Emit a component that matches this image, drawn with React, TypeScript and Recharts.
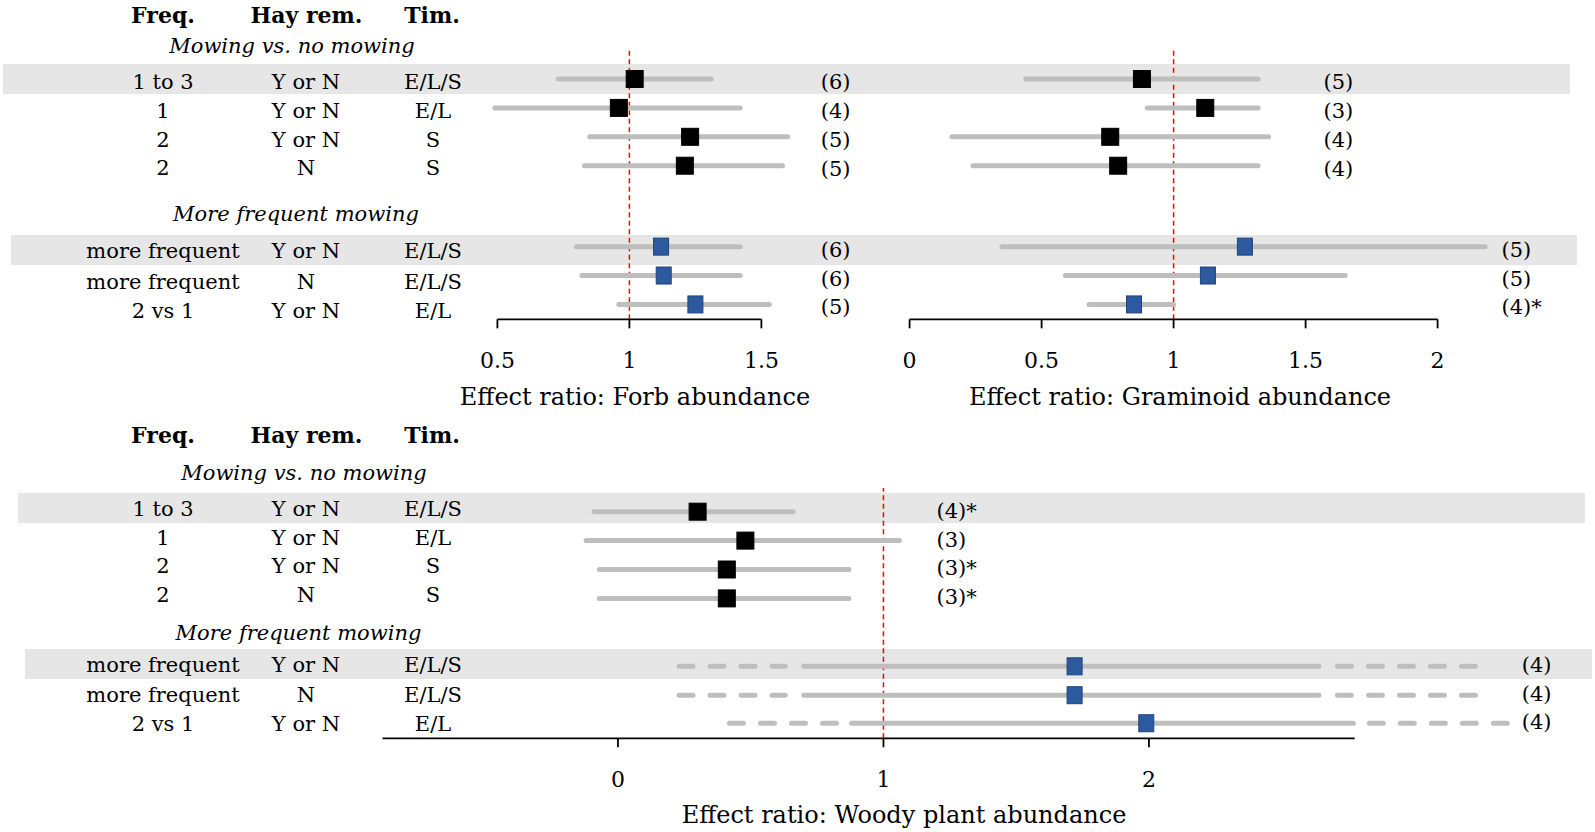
import { ComposedChart, Scatter, XAxis, YAxis, ReferenceLine } from 'recharts';

const FONT = '"DejaVu Serif", Georgia, serif';

// row descriptors (same for the three panels)
const FREQ = ['1 to 3', '1', '2', '2', 'more frequent', 'more frequent', '2 vs 1'];
const HAY_REM = ['Y or N', 'Y or N', 'Y or N', 'N', 'Y or N', 'N', 'Y or N'];
const TIMING = ['E/L/S', 'E/L', 'S', 'S', 'E/L/S', 'E/L/S', 'E/L'];
const CONTRAST = ['mow', 'mow', 'mow', 'mow', 'freq', 'freq', 'freq'];

// forb abundance
const FORB_EST = [1.02, 0.96, 1.23, 1.21, 1.12, 1.13, 1.25];
const FORB_LO = [0.73, 0.49, 0.85, 0.83, 0.8, 0.82, 0.96];
const FORB_HI = [1.31, 1.42, 1.6, 1.58, 1.42, 1.42, 1.53];
const FORB_N = [6, 4, 5, 5, 6, 6, 5];
const FORB_SIG = [false, false, false, false, false, false, false];

// graminoid abundance
const GRAM_EST = [0.88, 1.12, 0.76, 0.79, 1.27, 1.13, 0.85];
const GRAM_LO = [0.44, 0.9, 0.16, 0.24, 0.35, 0.59, 0.68];
const GRAM_HI = [1.32, 1.32, 1.36, 1.32, 2.18, 1.65, 1.0];
const GRAM_N = [5, 3, 4, 4, 5, 5, 4];
const GRAM_SIG = [false, false, false, false, false, false, true];

// woody plant abundance
const WOODY_EST = [0.3, 0.48, 0.41, 0.41, 1.72, 1.72, 1.99];
const WOODY_LO = [-0.09, -0.12, -0.07, -0.07, 0.7, 0.7, 0.88];
const WOODY_HI = [0.66, 1.06, 0.87, 0.87, 2.64, 2.64, 2.77];
const WOODY_DASH_LO: ([number, number] | null)[] = [null, null, null, null, [0.23, 0.63], [0.23, 0.63], [0.42, 0.83]];
const WOODY_DASH_HI: ([number, number] | null)[] = [null, null, null, null, [2.71, 3.23], [2.71, 3.23], [2.83, 3.35]];
const WOODY_N = [4, 3, 3, 3, 4, 4, 4];
const WOODY_SIG = [true, false, true, true, false, false, false];

const POINT_FILL: Record<string, string> = { mow: '#000000', freq: '#2d5a9e' };
const CI_GRAY = '#bebebe';
const BAND = '#e6e6e6';
const AXIS_H = 70;
const UNIT = 28.9;

// layout of the rows (in row units) for the upper and lower block
const TOP_ROWS = [0, 1, 2, 3, 5.8, 6.8, 7.8];
const TOP_Y: [number, number] = [-1.073, 8.315];
const TOP_TEXT_Y = [81.5, 111, 139.7, 167.5, 251, 282, 310.5];
const BOT_ROWS = [0, 1, 2, 3, 5.35, 6.35, 7.32];
const BOT_Y: [number, number] = [-0.82, 7.841];
const BOT_TEXT_Y = [509, 537.5, 566, 594.7, 665, 695, 723.5];

const noShape = () => <g />;

const square = (w: number, h: number, fill: string) => (props: any) => (
  <rect
    x={props.cx - w / 2}
    y={props.cy - h / 2}
    width={w}
    height={h}
    fill={fill}
    stroke={fill === '#000000' ? '#000000' : '#1e437d'}
    strokeWidth={1}
  />
);

const countLabel = (dy: number) => (props: any) => (
  <text
    x={props.cx}
    y={props.cy + dy}
    textAnchor="start"
    dominantBaseline="central"
    fontFamily={FONT}
    fontSize={21}
    fill="#000"
  >
    {props.payload.label}
  </text>
);

interface PanelProps {
  est: number[];
  lo: number[];
  hi: number[];
  n: number[];
  sig: boolean[];
  dashLo?: ([number, number] | null)[];
  dashHi?: ([number, number] | null)[];
  xDomain: [number, number];
  ticks: number[];
  axisSpan: [number, number];
  labelX: number[];
  labelDy: number;
  rows: number[];
  yDomain: [number, number];
  left: number;
  top: number;
  pxPerUnit: number;
}

function ForestPanel(p: PanelProps) {
  const plotW = (p.xDomain[1] - p.xDomain[0]) * p.pxPerUnit;
  const plotH = (p.yDomain[1] - p.yDomain[0]) * UNIT;
  const right = 45;
  const yBottom = p.yDomain[1];

  const segs: { data: { x: number; y: number }[]; dashed: boolean }[] = [];
  p.est.forEach((_, i) => {
    segs.push({ data: [{ x: p.lo[i], y: p.rows[i] }, { x: p.hi[i], y: p.rows[i] }], dashed: false });
    const dl = p.dashLo?.[i];
    const dh = p.dashHi?.[i];
    if (dl) segs.push({ data: [{ x: dl[0], y: p.rows[i] }, { x: dl[1], y: p.rows[i] }], dashed: true });
    if (dh) segs.push({ data: [{ x: dh[0], y: p.rows[i] }, { x: dh[1], y: p.rows[i] }], dashed: true });
  });

  const pts = p.est.map((v, i) => ({ x: v, y: p.rows[i], c: CONTRAST[i] }));
  const labels = p.n.map((v, i) => ({ x: p.labelX[i], y: p.rows[i], label: `(${v})${p.sig[i] ? '*' : ''}` }));

  return (
    <div style={{ position: 'absolute', left: p.left, top: p.top }}>
      <ComposedChart width={plotW + right} height={plotH + AXIS_H} margin={{ top: 0, right, bottom: 0, left: 0 }}>
        <XAxis
          type="number"
          dataKey="x"
          domain={p.xDomain}
          ticks={p.ticks}
          interval={0}
          axisLine={false}
          tickLine={{ stroke: '#000', strokeWidth: 1.8 }}
          tickSize={9}
          tickMargin={24}
          height={AXIS_H}
          tick={{ fontFamily: FONT, fontSize: 22, fill: '#000' }}
        />
        <YAxis type="number" dataKey="y" domain={p.yDomain} reversed hide />
        {segs.map((s, k) => (
          <Scatter
            key={'ci' + k}
            data={s.data}
            shape={noShape}
            line={{
              stroke: CI_GRAY,
              strokeWidth: 5,
              strokeLinecap: 'round',
              strokeDasharray: s.dashed ? '14 17' : undefined,
            }}
            isAnimationActive={false}
          />
        ))}
        <ReferenceLine x={1} stroke="#ff0000" strokeWidth={1.5} strokeDasharray="5 3.5" />
        <ReferenceLine
          segment={[
            { x: p.axisSpan[0], y: yBottom },
            { x: p.axisSpan[1], y: yBottom },
          ]}
          stroke="#000"
          strokeWidth={1.8}
          ifOverflow="visible"
        />
        <Scatter data={pts.filter((d) => d.c === 'mow')} shape={square(17, 17, POINT_FILL.mow)} isAnimationActive={false} />
        <Scatter data={pts.filter((d) => d.c === 'freq')} shape={square(15, 17, POINT_FILL.freq)} isAnimationActive={false} />
        <Scatter data={labels} shape={countLabel(p.labelDy)} isAnimationActive={false} />
      </ComposedChart>
    </div>
  );
}

function Txt({ x, y, children, size = 21, weight = 400, italic = false }: any) {
  return (
    <div
      style={{
        position: 'absolute',
        left: x,
        top: y,
        transform: 'translate(-50%, -50%)',
        whiteSpace: 'nowrap',
        lineHeight: 1,
        fontFamily: FONT,
        fontSize: size,
        fontWeight: weight,
        fontStyle: italic ? 'italic' : 'normal',
        color: '#000',
      }}
    >
      {children}
    </div>
  );
}

function Band({ x, y, w, h }: { x: number; y: number; w: number; h: number }) {
  return <div style={{ position: 'absolute', left: x, top: y, width: w, height: h, background: BAND }} />;
}

function Table({ headerY, sub1, sub2, textY }: { headerY: number; sub1: [number, number]; sub2: [number, number]; textY: number[] }) {
  return (
    <>
      <Txt x={163} y={headerY} size={22} weight={700}>Freq.</Txt>
      <Txt x={306.5} y={headerY} size={22} weight={700}>Hay rem.</Txt>
      <Txt x={432} y={headerY} size={22} weight={700}>Tim.</Txt>
      <Txt x={sub1[0]} y={sub1[1]} italic>Mowing vs. no mowing</Txt>
      <Txt x={sub2[0]} y={sub2[1]} italic>More frequent mowing</Txt>
      {FREQ.map((f, i) => (
        <Txt key={'f' + i} x={163} y={textY[i]}>{f}</Txt>
      ))}
      {HAY_REM.map((f, i) => (
        <Txt key={'h' + i} x={306} y={textY[i]}>{f}</Txt>
      ))}
      {TIMING.map((f, i) => (
        <Txt key={'t' + i} x={433} y={textY[i]}>{f}</Txt>
      ))}
    </>
  );
}

export default function App() {
  return (
    <div style={{ position: 'absolute', left: 0, top: 0, width: 1595, height: 832, background: '#fff', overflow: 'hidden' }}>
      <Band x={3} y={64} w={1567} h={30} />
      <Band x={11} y={234.5} w={1566} h={30.5} />
      <Band x={18} y={493.3} w={1567} h={29.5} />
      <Band x={25} y={649} w={1567} h={30} />

      <Table headerY={14.5} sub1={[292, 46]} sub2={[296, 213.5]} textY={TOP_TEXT_Y} />
      <Table headerY={435} sub1={[304, 472.5]} sub2={[298.5, 632.5]} textY={BOT_TEXT_Y} />

      <ForestPanel
        est={FORB_EST} lo={FORB_LO} hi={FORB_HI} n={FORB_N} sig={FORB_SIG}
        xDomain={[0.4, 1.8]} ticks={[0.5, 1, 1.5]} axisSpan={[0.5, 1.5]}
        labelX={[1.725, 1.725, 1.725, 1.725, 1.725, 1.725, 1.725]} labelDy={3}
        rows={TOP_ROWS} yDomain={TOP_Y}
        left={471.3} top={48} pxPerUnit={264}
      />
      <ForestPanel
        est={GRAM_EST} lo={GRAM_LO} hi={GRAM_HI} n={GRAM_N} sig={GRAM_SIG}
        xDomain={[-0.15, 2.35]} ticks={[0, 0.5, 1, 1.5, 2]} axisSpan={[0, 2]}
        labelX={[1.568, 1.568, 1.568, 1.568, 2.242, 2.242, 2.242]} labelDy={3}
        rows={TOP_ROWS} yDomain={TOP_Y}
        left={870.4} top={48} pxPerUnit={264}
      />
      <ForestPanel
        est={WOODY_EST} lo={WOODY_LO} hi={WOODY_HI} n={WOODY_N} sig={WOODY_SIG}
        dashLo={WOODY_DASH_LO} dashHi={WOODY_DASH_HI}
        xDomain={[-0.9, 3.45]} ticks={[0, 1, 2]} axisSpan={[-0.887, 2.775]}
        labelX={[1.2, 1.2, 1.2, 1.2, 3.404, 3.404, 3.404]} labelDy={-1}
        rows={BOT_ROWS} yDomain={BOT_Y}
        left={379.35} top={488} pxPerUnit={265.5}
      />

      <Txt x={635} y={396.7} size={24}>Effect ratio: Forb abundance</Txt>
      <Txt x={1180} y={396.7} size={24}>Effect ratio: Graminoid abundance</Txt>
      <Txt x={904} y={815} size={24}>Effect ratio: Woody plant abundance</Txt>
    </div>
  );
}
